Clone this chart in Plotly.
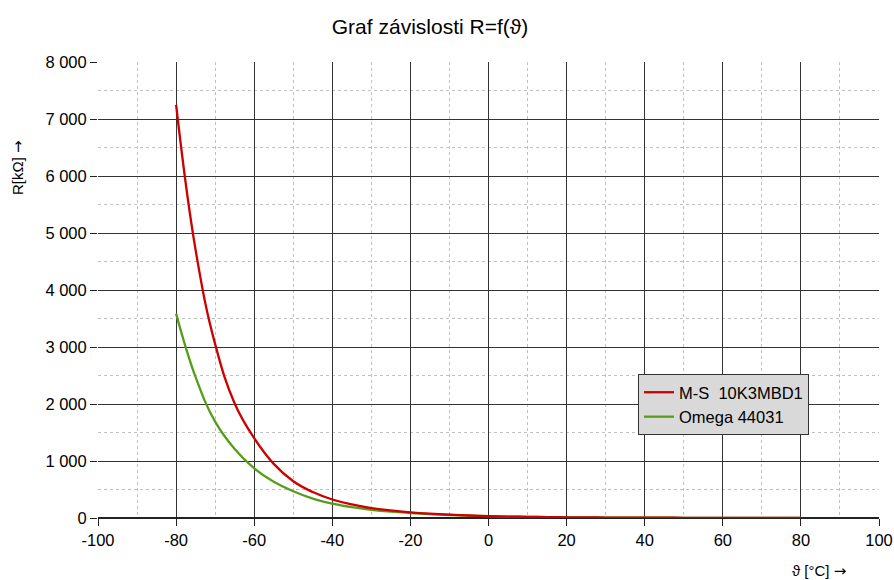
import plotly.graph_objects as go

temps = [-80, -75, -70, -65, -60, -55, -50, -45, -40, -35, -30, -25, -20, -15, -10, -5,
         0, 5, 10, 15, 20, 25, 30, 35, 40, 45, 50, 55, 60, 65, 70, 75, 80]
r_ms = [7250, 4700, 3050, 2010, 1400, 950, 645, 455, 325, 240, 175, 132, 100, 76, 58, 44,
        33, 25.5, 19.9, 15.6, 12.4, 10, 8.1, 6.6, 5.4, 4.5, 3.7, 3.1, 2.6, 2.2, 1.9, 1.6, 1.4]
r_omega = [3585, 2470, 1690, 1210, 870, 635, 470, 340, 252, 190, 145, 112, 88, 68, 53, 41.5,
           32.6, 25.4, 19.9, 15.7, 12.5, 10, 8.1, 6.5, 5.3, 4.4, 3.6, 3.0, 2.5, 2.1, 1.8, 1.5, 1.3]

x_tickvals = [-100, -80, -60, -40, -20, 0, 20, 40, 60, 80, 100]
x_ticktext = ["-100", "-80", "-60", "-40", "-20", "0", "20", "40", "60", "80", "100"]
y_tickvals = [0, 1000, 2000, 3000, 4000, 5000, 6000, 7000, 8000]
y_ticktext = ["0", "1 000", "2 000", "3 000", "4 000", "5 000", "6 000", "7 000", "8 000"]

name_ms = "M-S\u00a0 10K3MBD1"
name_omega = "Omega 44031"
title_text = "Graf závislosti R=f(ϑ)"
ARROW = '<span style="font-family:DejaVu Sans">→</span>'
xtitle = "ϑ [°C] " + ARROW
ytitle = "R[kΩ] " + ARROW

FONT = "Liberation Sans, Arial, sans-serif"
W, H = 894, 580
ML, MR, MT, MB = 98, 15, 62, 62
PW, PH = W - ML - MR, H - MT - MB

fig = go.Figure()
fig.add_trace(go.Scatter(x=temps, y=r_omega, mode="lines", name=name_omega,
                         line=dict(color="#579d1c", width=2.3, shape="spline", smoothing=1.2),
                         legendrank=2))
fig.add_trace(go.Scatter(x=temps, y=r_ms, mode="lines", name=name_ms,
                         line=dict(color="#cc0000", width=2.3, shape="spline", smoothing=1.2),
                         legendrank=1))

axis_common = dict(
    showgrid=True, gridcolor="#333333", gridwidth=1,
    ticks="outside", ticklen=7, tickcolor="#222222", tickwidth=1,
    tickfont=dict(family=FONT, size=16.5, color="#000000"),
    showline=False, automargin=False,
)

fig.update_xaxes(range=[-100, 100], tickmode="array", tickvals=x_tickvals, ticktext=x_ticktext,
                 zeroline=False,
                 minor=dict(tickmode="linear", tick0=0, dtick=10, showgrid=True, gridcolor="#c0c0c0",
                            griddash="3px,3px", gridwidth=1, ticks=""),
                 **axis_common)
fig.update_yaxes(range=[0, 8000], tickmode="array", tickvals=y_tickvals, ticktext=y_ticktext,
                 zeroline=True, zerolinecolor="#222222", zerolinewidth=2,
                 minor=dict(tickmode="linear", tick0=0, dtick=500, showgrid=True, gridcolor="#c0c0c0",
                            griddash="3px,3px", gridwidth=1, ticks=""),
                 **axis_common)

fig.update_layout(
    width=W, height=H,
    margin=dict(l=ML, r=MR, t=MT, b=MB, pad=0, autoexpand=False),
    paper_bgcolor="white", plot_bgcolor="white",
    font=dict(family=FONT, color="#000000"),
    title=dict(text=title_text, x=430 / W, xref="container", xanchor="center",
               y=1 - 27 / H, yref="container", yanchor="middle",
               font=dict(family=FONT, size=21, color="#000000")),
    showlegend=True,
    legend=dict(x=(638 - ML) / PW, y=(H - MB - 374) / PH,
                xanchor="left", yanchor="top",
                bgcolor="#d9d9d9", bordercolor="#333333", borderwidth=1,
                font=dict(family=FONT, size=16.5, color="#000000"),
                itemwidth=30, tracegroupgap=0),
    annotations=[
        dict(text=ytitle, xref="paper", yref="paper",
             x=-(ML - 18) / PW, y=(H - MB - 168) / PH,
             xanchor="center", yanchor="middle", textangle=-90, showarrow=False,
             font=dict(family=FONT, size=15, color="#000000")),
        dict(text=xtitle, xref="paper", yref="paper",
             x=(819 - ML) / PW, y=-(571 - (H - MB)) / PH,
             xanchor="center", yanchor="middle", showarrow=False,
             font=dict(family=FONT, size=15, color="#000000")),
    ],
)

fig.write_html("out.html")
